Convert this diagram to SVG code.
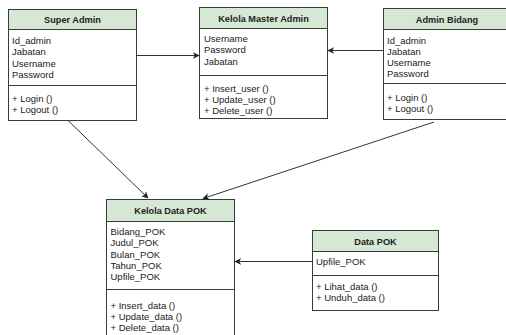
<svg xmlns="http://www.w3.org/2000/svg" width="506" height="335" viewBox="0 0 506 335">
  <style>
    .box { fill: #ffffff; stroke: #3a3a3a; stroke-width: 1; }
    .head { fill: #d5e8d4; stroke: #3a3a3a; stroke-width: 1; }
    .sep { stroke: #3a3a3a; stroke-width: 1; }
    .title { font-family: "Liberation Sans", Arial, sans-serif; font-size: 9.2px; font-weight: bold; fill: #222; text-anchor: middle; }
    .item { font-family: "Liberation Sans", Arial, sans-serif; font-size: 9.5px; fill: #222; }
    .edge { stroke: #333; stroke-width: 1; fill: none; marker-end: url(#arrow); }
  </style>
  <defs>
    <marker id="arrow" viewBox="0 0 10 10" refX="9" refY="5" markerWidth="7" markerHeight="7" markerUnits="userSpaceOnUse" orient="auto">
      <path d="M0,0 L10,5 L0,10 L3,5 Z" fill="#222"/>
    </marker>
  </defs>
  <rect width="506" height="335" fill="#ffffff"/>

  <!-- class: Super Admin -->
  <g id="super-admin">
    <rect class="box" x="8.5" y="9.5" width="128" height="111"/>
    <rect class="head" x="8.5" y="9.5" width="128" height="20"/>
    <line class="sep" x1="8.5" y1="85.5" x2="136.5" y2="85.5"/>
    <text class="title" x="72.5" y="23">Super Admin</text>
    <text class="item" x="12" y="44">Id_admin</text>
    <text class="item" x="12" y="55.3">Jabatan</text>
    <text class="item" x="12" y="66.6">Username</text>
    <text class="item" x="12" y="78">Password</text>
    <text class="item" x="12" y="101.5">+ Login ()</text>
    <text class="item" x="12" y="112.8">+ Logout ()</text>
  </g>

  <!-- class: Kelola Master Admin -->
  <g id="kelola-master-admin">
    <rect class="box" x="199.5" y="7.5" width="128" height="111"/>
    <rect class="head" x="199.5" y="7.5" width="128" height="21"/>
    <line class="sep" x1="199.5" y1="75.5" x2="327.5" y2="75.5"/>
    <text class="title" x="263.5" y="22">Kelola Master Admin</text>
    <text class="item" x="204" y="42">Username</text>
    <text class="item" x="204" y="53.3">Password</text>
    <text class="item" x="204" y="64.6">Jabatan</text>
    <text class="item" x="204" y="91.5">+ Insert_user ()</text>
    <text class="item" x="204" y="102.8">+ Update_user ()</text>
    <text class="item" x="204" y="114">+ Delete_user ()</text>
  </g>

  <!-- class: Admin Bidang -->
  <g id="admin-bidang">
    <rect class="box" x="383.5" y="8.5" width="128" height="111"/>
    <rect class="head" x="383.5" y="8.5" width="128" height="21"/>
    <line class="sep" x1="383.5" y1="83.5" x2="511.5" y2="83.5"/>
    <text class="title" x="447" y="23">Admin Bidang</text>
    <text class="item" x="387" y="43.5">Id_admin</text>
    <text class="item" x="387" y="54.8">Jabatan</text>
    <text class="item" x="387" y="66.1">Username</text>
    <text class="item" x="387" y="77.4">Password</text>
    <text class="item" x="387" y="101">+ Login ()</text>
    <text class="item" x="387" y="112.3">+ Logout ()</text>
  </g>

  <!-- class: Kelola Data POK -->
  <g id="kelola-data-pok">
    <rect class="box" x="106.5" y="199.5" width="128" height="145"/>
    <rect class="head" x="106.5" y="199.5" width="128" height="22"/>
    <line class="sep" x1="106.5" y1="289.5" x2="234.5" y2="289.5"/>
    <text class="title" x="170.5" y="213.5">Kelola Data POK</text>
    <text class="item" x="110.5" y="235">Bidang_POK</text>
    <text class="item" x="110.5" y="246.3">Judul_POK</text>
    <text class="item" x="110.5" y="257.6">Bulan_POK</text>
    <text class="item" x="110.5" y="269">Tahun_POK</text>
    <text class="item" x="110.5" y="280.3">Upfile_POK</text>
    <text class="item" x="110.5" y="308.5">+ Insert_data ()</text>
    <text class="item" x="110.5" y="319.8">+ Update_data ()</text>
    <text class="item" x="110.5" y="331">+ Delete_data ()</text>
  </g>

  <!-- class: Data POK -->
  <g id="data-pok">
    <rect class="box" x="312.5" y="230.5" width="126" height="80"/>
    <rect class="head" x="312.5" y="230.5" width="126" height="21"/>
    <line class="sep" x1="312.5" y1="275.5" x2="438.5" y2="275.5"/>
    <text class="title" x="375.5" y="245">Data POK</text>
    <text class="item" x="316" y="265">Upfile_POK</text>
    <text class="item" x="316" y="290">+ Lihat_data ()</text>
    <text class="item" x="316" y="300.5">+ Unduh_data ()</text>
  </g>

  <!-- associations -->
  <g id="connectors">
    <line class="edge" x1="136.5" y1="55.5" x2="199" y2="55.5"/>
    <line class="edge" x1="383.5" y1="50.5" x2="328" y2="50.5"/>
    <line class="edge" x1="68" y1="120.5" x2="148" y2="198"/>
    <line class="edge" x1="434" y1="122" x2="203" y2="198.5"/>
    <line class="edge" x1="312.5" y1="261.5" x2="235" y2="261.5"/>
  </g>
</svg>
